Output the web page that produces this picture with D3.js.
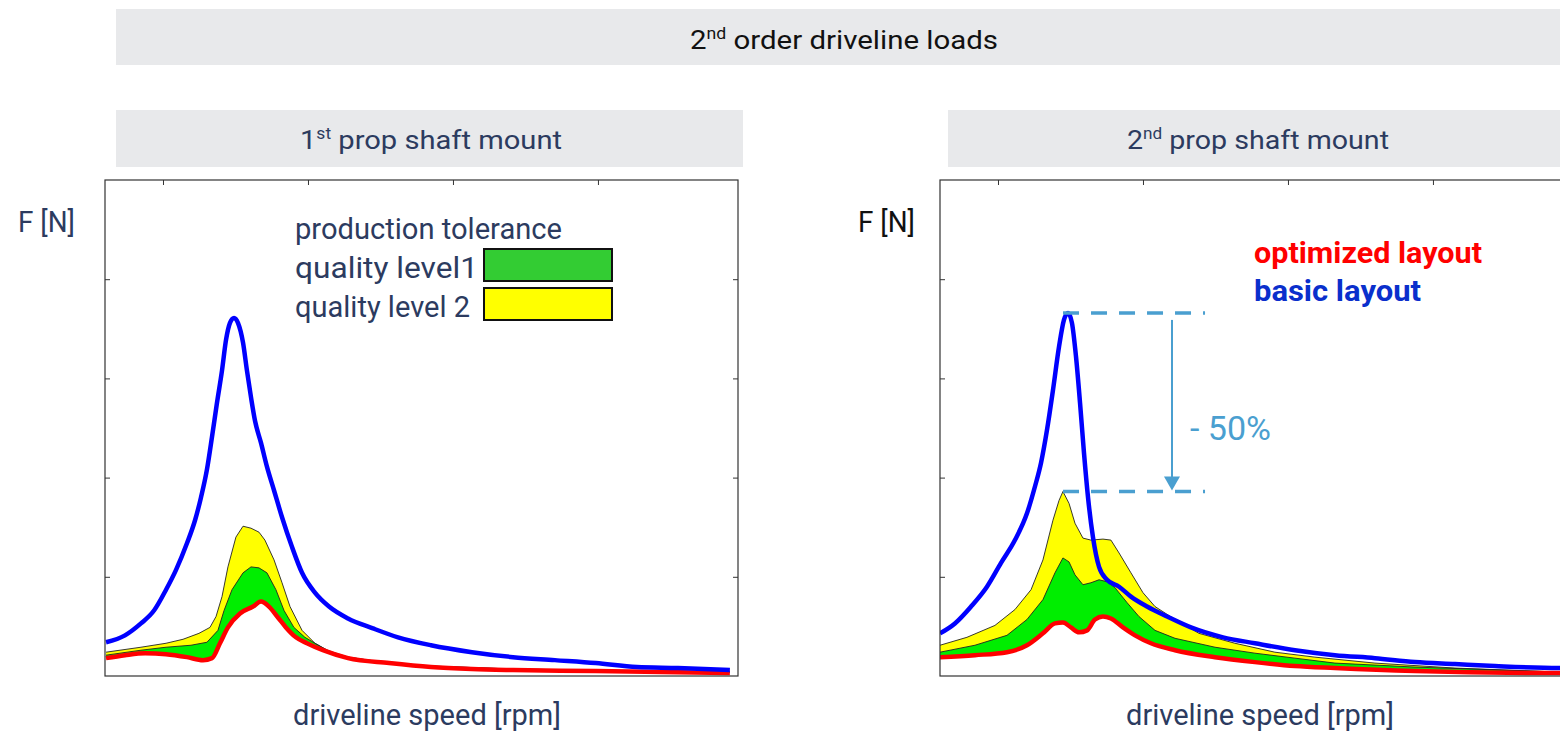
<!DOCTYPE html>
<html>
<head>
<meta charset="utf-8">
<script src="https://cdn.jsdelivr.net/npm/d3@7"></script>
<style>
  html, body { margin: 0; padding: 0; background: #ffffff; }
  svg { display: block; }
  text { font-family: "Roboto", "Liberation Sans", "DejaVu Sans", sans-serif; }
</style>
</head>
<body>
<svg id="chart" width="1560" height="732"></svg>
<script>
// ---------------- DATA ----------------
// driveline speed [rpm] axis and force [N] axis (no tick labels in original)
const xDomain = [600, 4966];
const yDomain = [0, 500];
const xTickValues = [1000, 2000, 3000, 4000];
const yTickValues = [100, 200, 300, 400];

// Panel 1 – 1st prop shaft mount  ([rpm, N])
const p1Basic = [[607,34],[738,41],[848,53],[938,66],[1021,87],[1090,107],[1166,134],[1221,157],[1262,180],[1303,208],[1338,241],[1372,275],[1407,308],[1435,339],[1462,356],[1490,361],[1517,356],[1552,336],[1579,308],[1607,281],[1635,257],[1676,235],[1717,211],[1766,187],[1821,160],[1890,130],[1959,104],[2048,84],[2145,70],[2276,58],[2448,48],[2621,39],[2848,31],[3131,24],[3414,19],[3703,16],[3986,13],[4269,9],[4552,8],[4910,6]];
const p1Optimized = [[607,18],[738,21],[876,23],[1021,22],[1166,19],[1276,16],[1338,18],[1393,33],[1448,49],[1531,63],[1621,70],[1676,75],[1731,70],[1793,59],[1848,49],[1917,39],[1993,33],[2103,26],[2276,18],[2559,13],[2848,9],[3131,7],[3414,6],[3986,5],[4910,3]];
const p1Level1 = [[607,21],[848,26],[1021,29],[1193,31],[1303,34],[1379,46],[1421,66],[1476,87],[1552,104],[1607,110],[1662,109],[1717,104],[1779,87],[1835,66],[1903,49],[1979,39],[2048,33],[2131,26],[2276,19],[2559,13],[2848,10],[3414,7],[4910,4]];
const p1Level2 = [[607,24],[848,29],[1021,33],[1138,37],[1248,43],[1324,49],[1366,60],[1407,80],[1448,110],[1503,140],[1552,151],[1607,149],[1662,145],[1703,137],[1766,117],[1821,94],[1876,70],[1959,46],[2048,33],[2159,24],[2276,19],[2559,13],[2848,10],[3414,7],[4910,4]];

// Panel 2 – 2nd prop shaft mount  ([rpm, N])
const p2Basic = [[600,43],[703,53],[814,70],[924,90],[1021,114],[1117,137],[1200,164],[1255,191],[1297,215],[1338,248],[1379,288],[1421,332],[1455,359],[1483,366],[1510,356],[1538,322],[1566,275],[1593,225],[1621,180],[1655,140],[1697,110],[1752,97],[1835,90],[1917,80],[2028,70],[2166,60],[2331,49],[2552,39],[2772,33],[3048,26],[3324,21],[3600,18],[3876,14],[4152,12],[4428,10],[4869,8],[4966,8]];
const p2Optimized = [[600,19],[841,21],[1062,24],[1200,31],[1310,43],[1393,53],[1448,54],[1503,49],[1559,44],[1614,46],[1669,57],[1724,60],[1779,58],[1862,49],[1945,41],[2055,33],[2221,26],[2497,19],[2772,14],[3048,10],[3324,8],[3876,5],[4869,3],[4966,3]];
const p2Level1 = [[600,24],[841,31],[1062,41],[1200,57],[1310,77],[1393,104],[1448,119],[1490,115],[1531,102],[1586,92],[1641,94],[1697,97],[1752,95],[1807,89],[1890,74],[1972,60],[2083,46],[2221,38],[2497,29],[2772,23],[3048,18],[3324,13],[3876,9],[4869,4],[4966,4]];
const p2Level2 = [[600,31],[786,39],[979,51],[1117,67],[1228,87],[1310,117],[1379,157],[1421,177],[1448,186],[1490,174],[1531,154],[1586,139],[1641,137],[1724,138],[1779,137],[1835,124],[1917,104],[2000,84],[2083,70],[2221,57],[2386,43],[2634,33],[2910,24],[3186,19],[3600,13],[4152,8],[4869,4],[4966,4]];

// Texts
const mainTitle = ["2", "nd", " order driveline loads"];
const panelTitles = [["1", "st", " prop shaft mount"], ["2", "nd", " prop shaft mount"]];
const yLabel = "F [N]";
const xLabel = "driveline speed [rpm]";
const toleranceTitle = "production tolerance";
const toleranceLabels = ["quality level1", "quality level 2"];
const layoutLabels = ["optimized layout", "basic layout"];
const reductionLabel = "- 50%";

// ---------------- STYLE ----------------
const C = {
  band: "#e8e9eb", slate: "#2c3b5f", red: "#ff0000", blue: "#0000ff",
  blueText: "#0a2fcc", green: "#00ee00", greenLegend: "#33cc33", yellow: "#ffff00",
  anno: "#4a9fd0", frame: "#333333"
};

const svg = d3.select("#chart");
const W = 633, H = 496;
const x = d3.scaleLinear().domain(xDomain).range([0, W]);
const y = d3.scaleLinear().domain(yDomain).range([H, 0]);

function fit(sel, len) {
  sel.attr("textLength", len).attr("lengthAdjust", "spacingAndGlyphs");
  return sel;
}

function supText(g, parts, attrs) {
  const t = g.append("text");
  Object.entries(attrs).forEach(([k, v]) => t.attr(k, v));
  t.append("tspan").text(parts[0]);
  t.append("tspan").attr("font-size", "60%").attr("dy", "-0.62em").text(parts[1]);
  t.append("tspan").attr("dy", "0.37em").text(parts[2]);
  return t;
}

// Top title band
svg.append("rect").attr("x", 116).attr("y", 9).attr("width", 1460).attr("height", 56).attr("fill", C.band);
fit(supText(svg, mainTitle, { x: 690, y: 49, "font-size": 26, fill: "#111" }), 308);

const line = d3.line().x(d => x(d[0])).y(d => y(d[1])).curve(d3.curveMonotoneX);
const poly = d3.line().x(d => x(d[0])).y(d => y(d[1]));

function band(upper, lower) {
  return poly(upper.concat(lower.slice().reverse())) + "Z";
}

const titleBandX = [116, 948];
const titleTextX = [300, 1127];
const yLabelX = [18, 858];
const xLabelX = [293, 1126];

function panel(ox, data, idx) {
  svg.append("rect").attr("x", titleBandX[idx]).attr("y", 110).attr("width", 627).attr("height", 57).attr("fill", C.band);
  fit(supText(svg, panelTitles[idx], { x: titleTextX[idx], y: 149, "font-size": 26, fill: C.slate }), 262);

  const g = svg.append("g").attr("transform", `translate(${ox},180)`);
  const clipId = "clip" + idx;
  g.append("clipPath").attr("id", clipId).append("rect").attr("width", W).attr("height", H);
  const plot = g.append("g").attr("clip-path", `url(#${clipId})`);

  plot.append("path").attr("d", band(data.l2, data.opt)).attr("fill", C.yellow);
  plot.append("path").attr("d", band(data.l1, data.opt)).attr("fill", C.green);
  plot.append("path").attr("d", poly(data.l2)).attr("fill", "none").attr("stroke", "#222").attr("stroke-width", 0.9);
  plot.append("path").attr("d", poly(data.l1)).attr("fill", "none").attr("stroke", "#222").attr("stroke-width", 0.9);
  plot.append("path").attr("d", line(data.opt)).attr("fill", "none").attr("stroke", C.red).attr("stroke-width", 4.5);
  plot.append("path").attr("d", line(data.basic)).attr("fill", "none").attr("stroke", C.blue).attr("stroke-width", 4.5);

  // frame + inward ticks
  g.append("rect").attr("width", W).attr("height", H).attr("fill", "none").attr("stroke", C.frame).attr("stroke-width", 1.2);
  g.append("g").call(d3.axisTop(x).tickValues(xTickValues).tickSize(-5).tickFormat(""))
    .call(s => s.select(".domain").remove()).selectAll("line").attr("stroke", C.frame);
  g.append("g").call(d3.axisLeft(y).tickValues(yTickValues).tickSize(-5).tickFormat(""))
    .call(s => s.select(".domain").remove()).selectAll("line").attr("stroke", C.frame);
  g.append("g").attr("transform", `translate(${W},0)`).call(d3.axisRight(y).tickValues(yTickValues).tickSize(-5).tickFormat(""))
    .call(s => s.select(".domain").remove()).selectAll("line").attr("stroke", C.frame);

  // axis labels
  fit(svg.append("text").attr("x", yLabelX[idx]).attr("y", 232).attr("font-size", 29)
    .attr("fill", idx === 0 ? C.slate : "#111").text(yLabel), 57);
  fit(svg.append("text").attr("x", xLabelX[idx]).attr("y", 725).attr("font-size", 29)
    .attr("fill", C.slate).text(xLabel), 268);
  return g;
}

const g1 = panel(105, { basic: p1Basic, opt: p1Optimized, l1: p1Level1, l2: p1Level2 }, 0);
const g2 = panel(940, { basic: p2Basic, opt: p2Optimized, l1: p2Level1, l2: p2Level2 }, 1);

// Legend in panel 1
fit(g1.append("text").attr("x", 190).attr("y", 59).attr("font-size", 30).attr("fill", C.slate).text(toleranceTitle), 267);
const legColors = [C.greenLegend, C.yellow];
const legLens = [183, 175];
toleranceLabels.forEach((lab, i) => {
  fit(g1.append("text").attr("x", 190).attr("y", 98 + i * 39).attr("font-size", 30).attr("fill", C.slate).text(lab), legLens[i]);
  g1.append("rect").attr("x", 379).attr("y", 69 + i * 39).attr("width", 128).attr("height", 32)
    .attr("fill", legColors[i]).attr("stroke", "#111").attr("stroke-width", 2);
});

// Legend in panel 2
const layoutColors = [C.red, C.blueText];
const layoutLens = [228, 167];
layoutLabels.forEach((lab, i) => {
  fit(g2.append("text").attr("x", 314).attr("y", 83 + i * 38).attr("font-size", 29).attr("font-weight", "bold")
    .attr("fill", layoutColors[i]).text(lab), layoutLens[i]);
});

// -50% annotation in panel 2
const peakBasic = p2Basic.reduce((a, b) => (b[1] > a[1] ? b : a));
const peakTol = p2Level2.reduce((a, b) => (b[1] > a[1] ? b : a));
const annoEnd = 2428, arrowX = 2200, labelX = 2324;
[peakBasic[1], peakTol[1]].forEach(v => {
  g2.append("line").attr("x1", x(peakBasic[0]) - 5).attr("x2", x(annoEnd))
    .attr("y1", y(v)).attr("y2", y(v))
    .attr("stroke", C.anno).attr("stroke-width", 3.5).attr("stroke-dasharray", "16,12");
});
g2.append("line").attr("x1", x(arrowX)).attr("x2", x(arrowX))
  .attr("y1", y(peakBasic[1]) + 7).attr("y2", y(peakTol[1]) - 14)
  .attr("stroke", C.anno).attr("stroke-width", 2);
const ax = x(arrowX), ay = y(peakTol[1]);
g2.append("path").attr("d", `M${ax - 8},${ay - 15}L${ax + 8},${ay - 15}L${ax},${ay - 1}Z`).attr("fill", C.anno);
fit(g2.append("text").attr("x", x(labelX)).attr("y", 260).attr("font-size", 34)
  .attr("fill", C.anno).text(reductionLabel), 81);
</script>
</body>
</html>
